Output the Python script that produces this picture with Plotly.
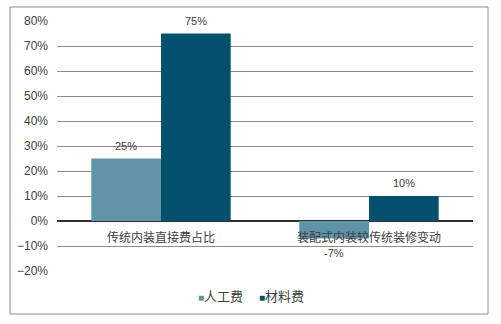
import plotly.graph_objects as go

categories = ["传统内装直接费占比", "装配式内装较传统装修变动"]
labor = [0.25, -0.07]
material = [0.75, 0.10]
series_names = ["人工费", "材料费"]
colors = ["#5E93A8", "#02506B"]
ytick_vals = [-0.2, -0.1, 0, 0.1, 0.2, 0.3, 0.4, 0.5, 0.6, 0.7, 0.8]

font_family = "Liberation Sans, Noto Sans CJK SC, sans-serif"
text_color = "#404040"

fig = go.Figure()
for name, vals, c in zip(series_names, [labor, material], colors):
    fig.add_trace(go.Bar(
        x=categories, y=vals, name=name,
        marker=dict(color=c, line=dict(width=0)),
        cliponaxis=False, showlegend=False,
    ))

annotations = []
# value labels above / below each bar
bar_shift = [-35, 35]
for vals, xs in zip([labor, material], bar_shift):
    for cat, v in zip(categories, vals):
        annotations.append(dict(
            xref="x", yref="y", x=cat, y=v, xshift=xs,
            yshift=13 if v >= 0 else -14.5,
            text=f"{round(v * 100)}%", showarrow=False,
            xanchor="center", yanchor="middle",
            font=dict(size=11, color=text_color, family=font_family),
        ))

# legend drawn as text entries (small coloured squares like the original)
legend_x = [0.392, 0.540]
for name, c, lx in zip(series_names, colors, legend_x):
    annotations.append(dict(
        xref="paper", yref="paper", x=lx, y=-0.1, xanchor="center", yanchor="middle",
        showarrow=False,
        text=f"<span style='color:{c};font-size:10px'>■</span>{name}",
        font=dict(size=13, color=text_color, family=font_family),
    ))

fig.update_layout(
    width=501, height=324,
    margin=dict(l=57, r=28, t=21, b=53),
    paper_bgcolor="white", plot_bgcolor="white",
    barmode="group", bargap=0.33, bargroupgap=0,
    font=dict(family=font_family, size=12, color=text_color),
    annotations=annotations,
    xaxis=dict(anchor="free", position=0.2, showgrid=False, showline=False,
               ticks="", ticklabelstandoff=8,
               tickfont=dict(size=12, color=text_color), zeroline=False),
    yaxis=dict(range=[-0.2, 0.8], tickvals=ytick_vals, tickformat=".0%",
               showgrid=True, gridcolor="#8c8c8c", gridwidth=1,
               zeroline=True, zerolinecolor="#303030", zerolinewidth=1.5,
               showline=False, ticks="", ticklabelstandoff=8,
               tickfont=dict(size=12, color=text_color)),
    shapes=[dict(type="rect", xref="paper", yref="paper",
                 x0=(10 - 57) / 416, x1=(488 - 57) / 416,
                 y0=(271 - 314) / 250, y1=(271 - 7) / 250,
                 line=dict(color="#8c8c8c", width=1), layer="below")],
)

fig.write_html("out.html")
